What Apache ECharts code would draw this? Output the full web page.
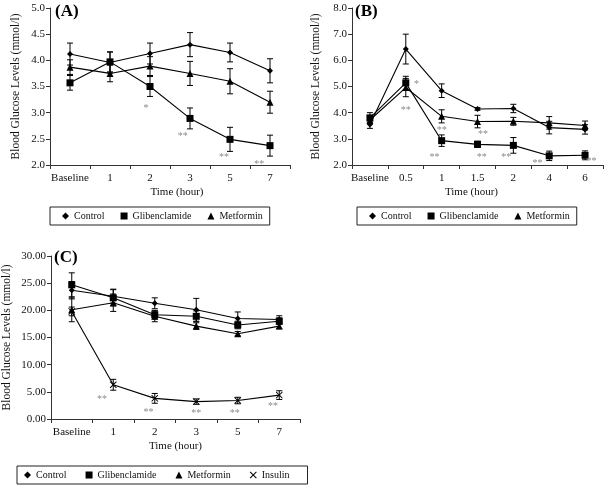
<!DOCTYPE html>
<html>
<head>
<meta charset="utf-8">
<script src="https://cdn.jsdelivr.net/npm/echarts@6/dist/echarts.min.js"></script>
<style>html,body{margin:0;padding:0;background:#fff}#c{width:604px;height:488px}</style>
</head>
<body>
<div id="c"></div>
<script>
// ---------- DATA ----------
const catA = ['Baseline', '1', '2', '3', '5', '7'];
const ctrlA = [4.12, 3.96, 4.13, 4.30, 4.15, 3.80];
const ctrlAErr = [0.21, 0.20, 0.20, 0.23, 0.18, 0.23];
const glibA = [3.57, 3.97, 3.50, 2.89, 2.49, 2.37];
const glibAErr = [0.14, 0.19, 0.19, 0.20, 0.23, 0.20];
const metA = [3.87, 3.75, 3.89, 3.75, 3.60, 3.20];
const metAErr = [0.14, 0.16, 0.18, 0.23, 0.24, 0.21];
const sigA = [[2, 3.13, -0.1, '*'], [3, 2.60, -0.18, '**'], [4, 2.20, -0.15, '**'], [5, 2.07, -0.27, '**']];

const catB = ['Baseline', '0.5', '1', '1.5', '2', '4', '6'];
const ctrlB = [3.55, 6.43, 4.84, 4.14, 4.16, 3.43, 3.36];
const ctrlBErr = [0.15, 0.57, 0.26, 0.05, 0.16, 0.24, 0.18];
const glibB = [3.80, 5.14, 2.93, 2.79, 2.75, 2.35, 2.37];
const glibBErr = [0.20, 0.25, 0.22, 0.12, 0.30, 0.18, 0.17];
const metB = [3.72, 4.96, 3.86, 3.66, 3.67, 3.61, 3.51];
const metBErr = [0.15, 0.35, 0.25, 0.24, 0.15, 0.24, 0.17];
const sigB = [[1, 5.20, 0.3, '*'], [1, 4.21, 0, '**'], [2, 3.44, 0, '**'], [2, 2.41, -0.2, '**'],
              [3, 3.28, 0.15, '**'], [3, 2.41, 0.12, '**'], [4, 2.41, -0.2, '**'], [5, 2.17, -0.33, '**'], [6, 2.25, 0.18, '**']];

const catC = ['Baseline', '1', '2', '3', '5', '7'];
const ctrlC = [23.7, 22.6, 21.3, 20.1, 18.5, 18.3];
const ctrlCErr = [1.6, 1.3, 1.0, 2.1, 1.2, 0.7];
const glibC = [24.7, 22.3, 19.2, 18.9, 17.3, 18.0];
const glibCErr = [2.2, 1.5, 0.8, 1.0, 0.7, 0.6];
const metC = [20.1, 21.4, 18.9, 17.1, 15.7, 17.1];
const metCErr = [2.2, 1.6, 1.0, 0.6, 0.4, 0.5];
const insC = [19.8, 6.3, 3.8, 3.2, 3.4, 4.4];
const insCErr = [0.8, 1.0, 0.9, 0.5, 0.6, 0.8];
const sigC = [[1, 4.2, -0.27, '**'], [2, 1.84, -0.15, '**'], [3, 1.53, 0, '**'], [4, 1.53, -0.07, '**'], [5, 2.9, -0.15, '**']];

const yTicksA = {min: 2, max: 5, interval: 0.5, digits: 1};
const yTicksB = {min: 2, max: 8, interval: 1, digits: 1};
const yTicksC = {min: 0, max: 30, interval: 5, digits: 2};

// ---------- STYLE ----------
const FONT = 'Liberation Serif';
const X_ICON = 'path://M0,1L1,0L5,4L9,0L10,1L6,5L10,9L9,10L5,6L1,10L0,9L4,5Z';
const SYM = {Control: ['diamond', 6], Glibenclamide: ['rect', 7], Metformin: ['triangle', 7], Insulin: [X_ICON, 7]};

function xAxis(cats, gi, nameShift) {
  return {
    type: 'category', data: cats, gridIndex: gi, boundaryGap: true,
    name: 'Time (hour)', nameLocation: 'middle', nameGap: 22,
    nameTextStyle: {fontFamily: FONT, fontSize: 11, color: '#111', padding: [0, 0, 0, nameShift]},
    axisLine: {lineStyle: {color: '#333', width: 1}},
    axisTick: {show: true, length: 4, lineStyle: {color: '#333'}},
    axisLabel: {fontFamily: FONT, fontSize: 11, color: '#111', margin: 8, interval: 0},
    splitLine: {show: false}
  };
}
function yAxis(t, gi, gap) {
  return {
    type: 'value', gridIndex: gi, min: t.min, max: t.max, interval: t.interval,
    name: 'Blood Glucose Levels (mmol/l)', nameLocation: 'middle', nameGap: gap, nameRotate: 90,
    nameTextStyle: {fontFamily: FONT, fontSize: 11.5, color: '#111'},
    axisLine: {show: true, lineStyle: {color: '#333', width: 1}},
    axisTick: {show: true, length: 4, lineStyle: {color: '#333'}},
    axisLabel: {fontFamily: FONT, fontSize: 11, color: '#111', margin: 5,
      formatter: v => v.toFixed(t.digits)},
    splitLine: {show: false}
  };
}
function lineSeries(name, vals, gi) {
  return {
    type: 'line', name: name, xAxisIndex: gi, yAxisIndex: gi, data: vals,
    symbol: SYM[name][0], symbolSize: SYM[name][1], showAllSymbol: true,
    lineStyle: {color: '#000', width: 1.1}, itemStyle: {color: '#000'},
    z: 3, animation: false, silent: true
  };
}
function errSeries(name, vals, errs, gi) {
  return {
    type: 'custom', name: name, xAxisIndex: gi, yAxisIndex: gi,
    data: vals.map((v, i) => [i, v, errs[i]]),
    renderItem: function (params, api) {
      const x = api.value(0), v = api.value(1), e = api.value(2);
      const hi = api.coord([x, v + e]), lo = api.coord([x, v - e]);
      const w = 3;
      const st = {stroke: '#000', lineWidth: 1};
      return {type: 'group', children: [
        {type: 'line', shape: {x1: hi[0], y1: hi[1], x2: lo[0], y2: lo[1]}, style: st},
        {type: 'line', shape: {x1: hi[0] - w, y1: hi[1], x2: hi[0] + w, y2: hi[1]}, style: st},
        {type: 'line', shape: {x1: lo[0] - w, y1: lo[1], x2: lo[0] + w, y2: lo[1]}, style: st}
      ]};
    },
    z: 2, animation: false, silent: true
  };
}
function sigSeries(sig, gi) {
  return {
    type: 'custom', xAxisIndex: gi, yAxisIndex: gi,
    data: sig.map(d => [d[0], d[1]]),
    renderItem: function (params, api) {
      const d = sig[params.dataIndex];
      const p = api.coord([d[0], d[1]]);
      const bw = api.size([1, 0])[0];
      return {type: 'text', style: {x: p[0] + d[2] * bw, y: p[1] + 3, text: d[3],
        font: '10px ' + FONT, fill: '#8a8a8a', align: 'center', verticalAlign: 'middle'}};
    },
    z: 4, animation: false, silent: true
  };
}
function legend(names, left, top, pad, gap) {
  return {
    left: left, top: top, orient: 'horizontal', padding: pad, itemGap: gap,
    itemWidth: 7, itemHeight: 7, borderColor: '#222', borderWidth: 1,
    selectedMode: false,
    data: names.map(n => ({name: n, icon: SYM[n][0]})),
    itemStyle: {color: '#000'},
    textStyle: {fontFamily: FONT, fontSize: 10, color: '#111'}
  };
}

const chart = echarts.init(document.getElementById('c'), null, {renderer: 'canvas'});
chart.setOption({
  animation: false,
  backgroundColor: '#fff',
  grid: [
    {left: 50, top: 8, width: 240, height: 157},
    {left: 352, top: 8, width: 251, height: 157},
    {left: 50, top: 256, width: 250, height: 163}
  ],
  xAxis: [xAxis(catA, 0, 14), xAxis(catB, 1, -12), xAxis(catC, 2, 0)],
  yAxis: [yAxis(yTicksA, 0, 28), yAxis(yTicksB, 1, 30), yAxis(yTicksC, 2, 38)],
  legend: [
    legend(['Control', 'Glibenclamide', 'Metformin'], 50, 207, [4, 7, 4, 12], 16),
    legend(['Control', 'Glibenclamide', 'Metformin'], 357, 207, [4, 7, 4, 12], 16),
    legend(['Control', 'Glibenclamide', 'Metformin', 'Insulin'], 17, 466, [4, 18, 4, 7], 19)
  ],
  graphic: [
    {type: 'text', left: 55, top: 3, style: {text: '(A)', font: 'bold 17px ' + FONT, fill: '#000'}},
    {type: 'text', left: 355, top: 3, style: {text: '(B)', font: 'bold 17px ' + FONT, fill: '#000'}},
    {type: 'text', left: 54, top: 249, style: {text: '(C)', font: 'bold 17px ' + FONT, fill: '#000'}}
  ],
  series: [
    errSeries('Control', ctrlA, ctrlAErr, 0), errSeries('Glibenclamide', glibA, glibAErr, 0), errSeries('Metformin', metA, metAErr, 0),
    lineSeries('Control', ctrlA, 0), lineSeries('Glibenclamide', glibA, 0), lineSeries('Metformin', metA, 0),
    sigSeries(sigA, 0),
    errSeries('Control', ctrlB, ctrlBErr, 1), errSeries('Glibenclamide', glibB, glibBErr, 1), errSeries('Metformin', metB, metBErr, 1),
    lineSeries('Control', ctrlB, 1), lineSeries('Glibenclamide', glibB, 1), lineSeries('Metformin', metB, 1),
    sigSeries(sigB, 1),
    errSeries('Control', ctrlC, ctrlCErr, 2), errSeries('Glibenclamide', glibC, glibCErr, 2), errSeries('Metformin', metC, metCErr, 2), errSeries('Insulin', insC, insCErr, 2),
    lineSeries('Control', ctrlC, 2), lineSeries('Glibenclamide', glibC, 2), lineSeries('Metformin', metC, 2), lineSeries('Insulin', insC, 2),
    sigSeries(sigC, 2)
  ]
});
</script>
</body>
</html>
